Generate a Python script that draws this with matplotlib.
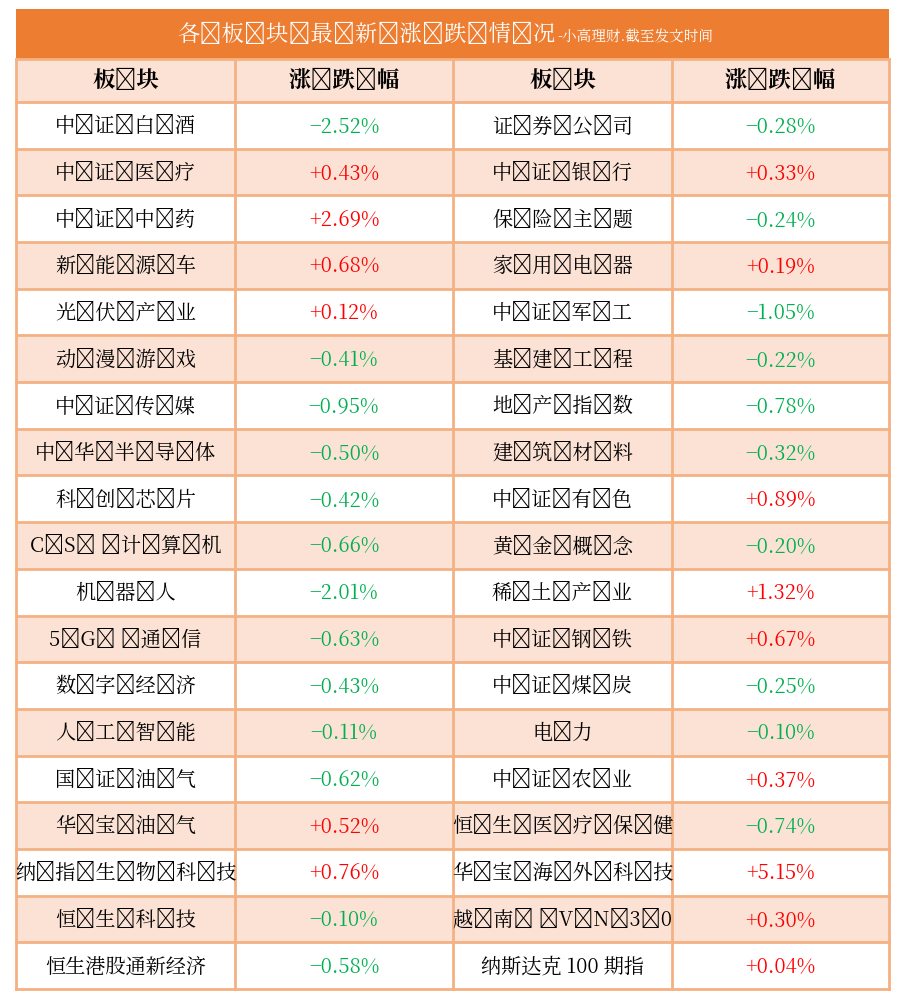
import matplotlib
matplotlib.use("Agg")
import matplotlib.pyplot as plt
from matplotlib.patches import Rectangle
from matplotlib import font_manager as fm

title = "各板块最新涨跌情况"
subtitle = "-小高理财.截至发文时间"
headers = ["板块", "涨跌幅", "板块", "涨跌幅"]
left_names = ["中证白酒","中证医疗","中证中药","新能源车","光伏产业","动漫游戏","中证传媒","中华半导体","科创芯片",
              "CS 计算机","机器人","5G 通信","数字经济","人工智能","国证油气","华宝油气","纳指生物科技","恒生科技","恒生港股通新经济"]
left_vals = [-2.52,0.43,2.69,0.68,0.12,-0.41,-0.95,-0.50,-0.42,-0.66,-2.01,-0.63,-0.43,-0.11,-0.62,0.52,0.76,-0.10,-0.58]
right_names = ["证券公司","中证银行","保险主题","家用电器","中证军工","基建工程","地产指数","建筑材料","中证有色",
               "黄金概念","稀土产业","中证钢铁","中证煤炭","电力","中证农业","恒生医疗保健","华宝海外科技","越南 VN30","纳斯达克 100 期指"]
right_vals = [-0.28,0.33,-0.24,0.19,-1.05,-0.22,-0.78,-0.32,0.89,-0.20,1.32,0.67,-0.25,-0.10,0.37,-0.74,5.15,0.30,0.04]

cjk_file = None
for f in fm.findSystemFonts():
    if "CJK" in f and ("Regular" in f or "Medium" in f):
        cjk_file = f
        if "Regular" in f:
            break
if cjk_file is None:
    for f in fm.findSystemFonts():
        if "CJK" in f:
            cjk_file = f; break
if cjk_file:
    fm.fontManager.addfont(cjk_file)
    FONT = fm.FontProperties(fname=cjk_file).get_name()
else:
    FONT = "Noto Sans CJK SC"
plt.rcParams["font.family"] = [FONT, "DejaVu Sans"]

ORANGE = "#ED7D31"; PEACH = "#FBE2D5"; BORDER = "#F4B183"
GREEN = "#00B050"; RED = "#FF0000"

fig = plt.figure(figsize=(9.04, 10.04), dpi=100)
ax = fig.add_axes([0, 0, 1, 1])
ax.set_xlim(0, 904); ax.set_ylim(1004, 0); ax.axis("off")

x0, x1 = 16, 889
cols = [16, 235, 453, 672, 889]
top, ttl_b, hdr_b, bot = 10, 60, 103, 990
n = len(left_names)
rh = (bot - hdr_b) / n

ax.add_patch(Rectangle((x0, top), x1 - x0, ttl_b - top, fc=ORANGE, ec="none"))
ax.add_patch(Rectangle((x0, ttl_b), x1 - x0, hdr_b - ttl_b, fc=PEACH, ec="none"))
for i in range(n):
    y = hdr_b + i * rh
    ax.add_patch(Rectangle((x0, y), x1 - x0, rh, fc=("white" if i % 2 == 0 else PEACH), ec="none"))

lw = 2
for i in range(n + 1):
    y = hdr_b + i * rh
    ax.plot([x0, x1], [y, y], color=BORDER, lw=lw)
ax.plot([x0, x1], [ttl_b, ttl_b], color=BORDER, lw=lw)
for c in cols:
    ax.plot([c, c], [ttl_b, bot], color=BORDER, lw=lw)

def spaced(s):
    return "\u2009".join(s)

ax.text(556, 35, spaced(title), ha="right", va="center", fontsize=16, color="white", family=FONT)
ax.text(557, 37, subtitle, ha="left", va="center", fontsize=10.5, color="white", family=FONT)

for j, h in enumerate(headers):
    ax.text((cols[j] + cols[j+1]) / 2, (ttl_b + hdr_b) / 2, spaced(h), ha="center", va="center",
            fontsize=16, fontweight="bold", color="black", family=FONT)

def fmt(v):
    return f"{v:+.2f}%".replace("-", "−")

for i in range(n):
    yc = hdr_b + (i + 0.5) * rh
    for k, (names, vals) in enumerate([(left_names, left_vals), (right_names, right_vals)]):
        cx_n = (cols[2*k] + cols[2*k+1]) / 2
        cx_v = (cols[2*k+1] + cols[2*k+2]) / 2
        ax.text(cx_n, yc, spaced(names[i]) if len(names[i]) < 8 else names[i], ha="center", va="center",
                fontsize=14.5, color="black", family=FONT)
        v = vals[i]
        ax.text(cx_v, yc, fmt(v), ha="center", va="center", fontsize=14.5,
                color=(RED if v > 0 else GREEN), family=FONT)

fig.savefig("out.png", dpi=100, facecolor="white")
